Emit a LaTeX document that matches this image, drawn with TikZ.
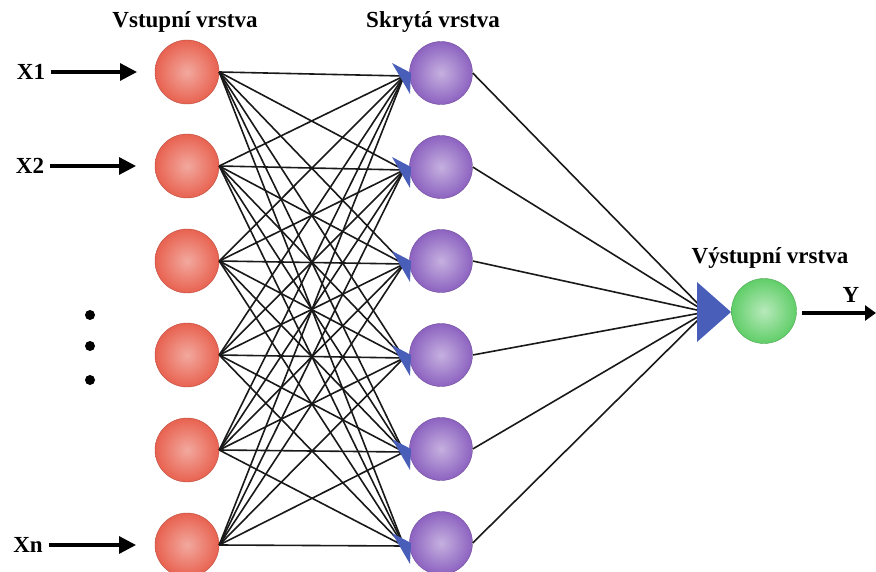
\documentclass[tikz,border=0pt]{standalone}
\usepackage{fontspec}
\setmainfont{Liberation Serif}
\usetikzlibrary{arrows.meta}
\definecolor{inred}{RGB}{232,98,80}
\definecolor{hidpur}{RGB}{140,98,192}
\definecolor{outgrn}{RGB}{96,206,104}
\definecolor{triblue}{RGB}{72,94,184}
\tikzset{
  lbl/.style={font=\bfseries\fontsize{23}{27}\selectfont, inner sep=0pt},
  neuron/.style={circle, minimum size=#1, inner sep=0pt},
  inneuron/.style={neuron=64pt, draw=inred!80!black, line width=0.4pt, shading=radial, inner color=inred!55!white, outer color=inred},
  hidneuron/.style={neuron=63pt, draw=hidpur!80!black, line width=0.4pt, shading=radial, inner color=hidpur!50!white, outer color=hidpur},
  outneuron/.style={neuron=65pt, draw=outgrn!80!black, line width=0.4pt, shading=radial, inner color=outgrn!45!white, outer color=outgrn},
  wire/.style={line width=1.6pt, black!90},
  inarrow/.style={line width=3.2pt, -{Triangle[length=17pt,width=17pt]}},
  tri/.style={fill=triblue, draw=none},
}
\begin{document}
\begin{tikzpicture}[x=1pt,y=-1pt]
\useasboundingbox (0,0) rectangle (876,572);
\fill[white] (0,0) rectangle (876,572);
% neurons
\foreach \k/\y in {1/72,2/166,3/261,4/355,5/450,6/545}{
  \node[inneuron] (i\k) at (187,\y) {};
}
\foreach \k/\y in {1/73,2/167,3/261,4/355,5/449,6/543}{
  \node[hidneuron] (h\k) at (441,\y) {};
  \coordinate (t\k) at (404,\y+3);
}
\node[outneuron] (o) at (764,311) {};
\coordinate (to) at (706,312);
% wires input -> hidden
\foreach \a in {1,...,6}{
  \foreach \b in {1,...,6}{
    \draw[wire] (i\a.east) -- (t\b);
  }
}
% wires hidden -> output
\foreach \b in {1,...,6}{
  \draw[wire] (h\b.east) -- (to);
}
% triangles at hidden neurons
\foreach \k/\y in {1/73,2/167,3/261,4/355,5/449,6/543}{
  \fill[tri] (392,\y-10) -- (411,\y) -- (410,\y+21) -- cycle;
}
% output triangle
\fill[tri] (697,282) -- (731,312) -- (697,342) -- cycle;
% labels
\node[lbl] at (185,22) {Vstupní vrstva};
\node[lbl] at (433,22) {Skrytá vrstva};
\node[lbl] at (770,258) {Výstupní vrstva};
\node[lbl] (x1) at (31,72) {X1};
\node[lbl] (x2) at (30,166) {X2};
\node[lbl] (xn) at (28,545) {Xn};
\node[lbl] (y) at (851,295) {Y};
\coordinate (ystart) at (802,313);
\coordinate (yend) at (876,313);
\draw[inarrow] (x1.east) ++(6,0) -- (137,72);
\draw[inarrow] (x2.east) ++(6,0) -- (136,166);
\draw[inarrow] (xn.east) ++(6,0) -- (136,545);
\draw[line width=3.2pt, -{Triangle[length=11pt,width=15pt]}] (ystart) -- (yend);
% dots
\foreach \y in {315,346,380}{
  \fill (90,\y) circle (5pt);
}
\end{tikzpicture}
\end{document}
